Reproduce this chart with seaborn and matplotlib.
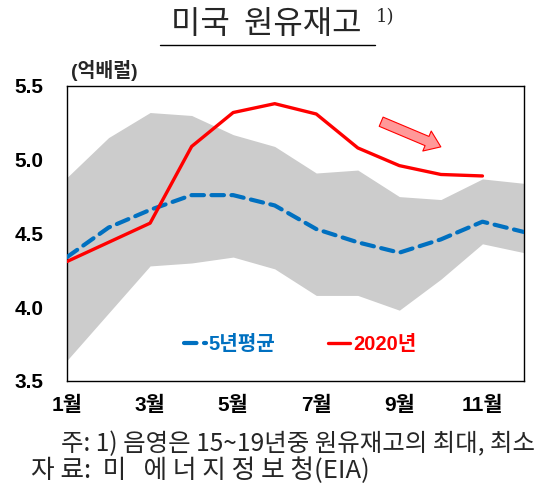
import numpy as np
import pandas as pd
import matplotlib
matplotlib.use("Agg")
import matplotlib.pyplot as plt
import seaborn as sns

# ------------------------
# DATA
# ------------------------

months = list(range(1, 13))
band_max = [4.88, 5.15, 5.32, 5.30, 5.17, 5.09, 4.91, 4.93, 4.75, 4.73, 4.87, 4.84]
band_min = [3.64, 3.96, 4.28, 4.30, 4.34, 4.26, 4.08, 4.08, 3.98, 4.19, 4.43, 4.37]
avg_5yr = [4.34, 4.54, 4.66, 4.76, 4.76, 4.69, 4.53, 4.44, 4.37, 4.46, 4.58, 4.51]
months_2020 = list(range(1, 12))
stock_2020 = [4.31, 4.44, 4.57, 5.09, 5.32, 5.38, 5.31, 5.08, 4.96, 4.90, 4.89]

tick_months = [1, 3, 5, 7, 9, 11]
tick_labels = ["1월", "3월", "5월", "7월", "9월", "11월"]

avg_df = pd.DataFrame({"month": months, "value": avg_5yr})
cur_df = pd.DataFrame({"month": months_2020, "value": stock_2020})

# ------------------------
# STYLE
# ------------------------

sns.set_theme(style="white")
plt.rcParams["font.family"] = ["Liberation Sans", "Noto Sans CJK KR"]
plt.rcParams["axes.unicode_minus"] = False

BLUE = "#0070C0"
RED = "#FF0000"
BOLD_FONT = ["Liberation Sans", "Noto Sans CJK KR"]

fig = plt.figure(figsize=(5.43, 4.93), dpi=100)
ax = fig.add_axes([0.1234, 0.2272, 0.8416, 0.5984])

ax.fill_between(months, band_min, band_max, color="#CCCCCC", lw=0, zorder=1)

sns.lineplot(data=avg_df, x="month", y="value", ax=ax, color=BLUE, lw=3.0,
             label="5년평균", zorder=3)
ax.lines[-1].set_dashes([3, 1.8])
ax.lines[-1].set_dash_capstyle("round")
sns.lineplot(data=cur_df, x="month", y="value", ax=ax, color=RED, lw=2.4,
             label="2020년", zorder=4)

# arrow showing the decline
ax.annotate("", xy=(10.06, 5.08), xytext=(8.5, 5.265),
            arrowprops=dict(arrowstyle="simple,head_length=0.9,head_width=1.3,tail_width=0.6",
                            fc="#FF9999", ec=RED, lw=0.8))

ax.set_xlim(1, 12)
ax.set_ylim(3.5, 5.5)
ax.set_xticks(tick_months)
ax.set_xticklabels(tick_labels)
ax.set_yticks([3.5, 4.0, 4.5, 5.0, 5.5])
ax.set_yticklabels(["3.5", "4.0", "4.5", "5.0", "5.5"])
ax.tick_params(axis="both", length=0, labelsize=15, colors="black")
ax.tick_params(axis="y", pad=17)
ax.tick_params(axis="x", pad=11)
for lab in ax.get_xticklabels() + ax.get_yticklabels():
    lab.set_fontweight("bold")
ax.set_xlabel("")
ax.set_ylabel("")
for sp in ax.spines.values():
    sp.set_color("black")
    sp.set_linewidth(1.0)

leg = ax.legend(loc="lower center", bbox_to_anchor=(0.51, 0.03), ncol=2, frameon=False,
                handlelength=1.1, handletextpad=0.15, columnspacing=2.6,
                prop={"family": BOLD_FONT, "weight": "bold", "size": 14.5},
                labelcolor="linecolor")

# unit label
fig.text(0.13, 0.835, "(억배럴)", fontsize=14, fontweight="bold",
         family=BOLD_FONT, ha="left", va="bottom")

# title with underline and footnote mark
fig.text(0.49, 0.952, "미국  원유재고", fontsize=23, ha="center", va="center",
         family=["Noto Sans CJK KR"], fontweight="light")
fig.add_artist(plt.Line2D([0.295, 0.69], [0.909, 0.909], color="black", lw=1.0))
fig.text(0.692, 0.965, "1)", fontsize=13, ha="left", va="center", family=["DejaVu Serif"])

# notes
fig.text(0.112, 0.1, "주: 1) 음영은 15~19년중 원유재고의 최대, 최소", fontsize=17.6,
         ha="left", va="center", family=["Noto Sans CJK KR"], fontweight="light")
fig.text(0.057, 0.045, "자 료:  미   에 너 지 정 보 청(EIA)", fontsize=18.5,
         ha="left", va="center", family=["Noto Sans CJK KR"], fontweight="light")

fig.savefig("out.png", dpi=100)
